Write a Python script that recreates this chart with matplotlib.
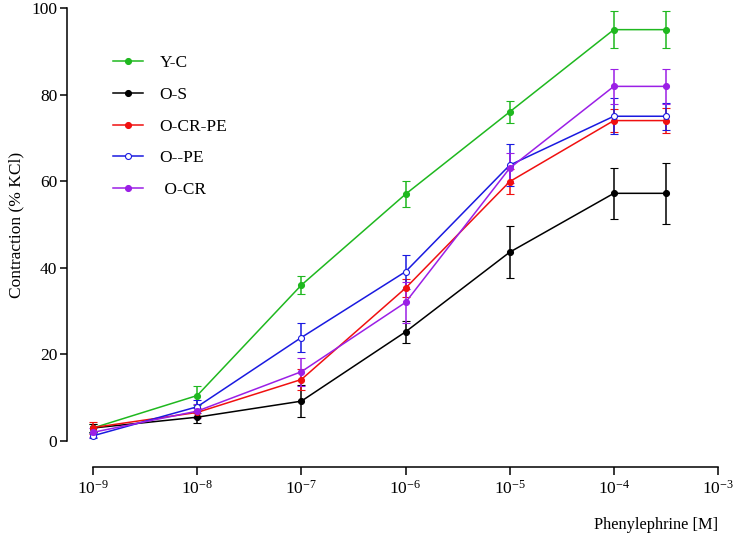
import matplotlib
matplotlib.use("Agg")
import matplotlib.pyplot as plt
from matplotlib.lines import Line2D
from matplotlib.ticker import FixedLocator, NullLocator

plt.rcParams['font.family'] = ['Liberation Serif', 'DejaVu Serif']
plt.rcParams['mathtext.fontset'] = 'custom'
plt.rcParams['mathtext.rm'] = 'Liberation Serif'
plt.rcParams['mathtext.it'] = 'Liberation Serif:italic'
plt.rcParams['mathtext.bf'] = 'Liberation Serif:bold'

# Data
conc = [1e-9, 1e-8, 1e-7, 1e-6, 1e-5, 1e-4, 10 ** -3.5]
series_names = ['Y-C', 'O-S', 'O-CR-PE', 'O--PE', ' O-CR']
yc_mean = [3.0, 10.5, 36.0, 57.0, 76.0, 95.0, 95.0]
yc_err = [1.0, 2.3, 2.1, 3.0, 2.5, 4.2, 4.3]
os_mean = [3.0, 5.5, 9.2, 25.2, 43.6, 57.2, 57.2]
os_err = [1.0, 1.4, 3.7, 2.5, 6.0, 5.9, 7.0]
ocrpe_mean = [3.1, 6.6, 14.2, 35.3, 59.9, 74.0, 74.0]
ocrpe_err = [1.4, 1.0, 2.4, 2.0, 2.9, 2.6, 2.9]
ope_mean = [1.2, 7.9, 23.9, 39.1, 63.7, 75.0, 75.0]
ope_err = [0.6, 1.5, 3.4, 3.9, 4.8, 4.2, 3.1]
ocr_mean = [2.0, 6.9, 16.0, 32.0, 63.0, 81.9, 81.9]
ocr_err = [1.0, 1.6, 3.2, 4.8, 3.4, 4.0, 4.0]

colors = ['#1FB81F', '#000000', '#F01010', '#1A1AE0', '#9B1FE6']
means = [yc_mean, os_mean, ocrpe_mean, ope_mean, ocr_mean]
errs = [yc_err, os_err, ocrpe_err, ope_err, ocr_err]
hollow = [False, False, False, True, False]

xticks = [1e-9, 1e-8, 1e-7, 1e-6, 1e-5, 1e-4, 1e-3]
xticklabels = ['$10^{-9}$', '$10^{-8}$', '$10^{-7}$', '$10^{-6}$',
               '$10^{-5}$', '$10^{-4}$', '$10^{-3}$']
yticks = [0, 20, 40, 60, 80, 100]

W, H = 738, 539
fig = plt.figure(figsize=(W / 100, H / 100), dpi=100)
ax = fig.add_axes([93 / W, 1 - 441 / H, 625 / W, 433 / H])
ax.set_xscale('log')

handles = []
for m, e, c, h, name in zip(means, errs, colors, hollow, series_names):
    mfc = 'white' if h else c
    ax.errorbar(conc, m, yerr=e, color=c, ecolor=c, lw=1.1, elinewidth=1.1,
                capsize=3, capthick=1.1, marker='o', markersize=4.3,
                markerfacecolor=mfc, markeredgecolor=c, markeredgewidth=0.8,
                clip_on=False)
    handles.append(Line2D([0], [0], color=c, lw=1.1, marker='o', markersize=4.3,
                          markerfacecolor=mfc, markeredgecolor=c,
                          markeredgewidth=0.8, label=name))

ax.set_xlim(1e-9, 1e-3)
ax.set_ylim(0, 100)
ax.xaxis.set_major_locator(FixedLocator(xticks))
ax.xaxis.set_minor_locator(NullLocator())
ax.set_xticklabels(xticklabels)
ax.set_yticks(yticks)

for s in ['top', 'right']:
    ax.spines[s].set_visible(False)
ax.spines['left'].set_position(('outward', 26 * 0.72))
ax.spines['bottom'].set_position(('outward', 26 * 0.72))
for s in ['left', 'bottom']:
    ax.spines[s].set_linewidth(1.1)
ax.tick_params(axis='both', which='major', labelsize=12.5, width=1.1,
               direction='out')
ax.tick_params(axis='y', length=5, pad=2)
ax.tick_params(axis='x', length=6, pad=3)

ax.set_ylabel('Contraction (% KCl)', fontsize=12.5, labelpad=5)
fig.text(718 / W, 1 - 525 / H, 'Phenylephrine [M]', fontsize=11.8,
         ha='right', va='center')

ax.legend(handles=handles, loc='upper left', frameon=False, fontsize=12.5,
          bbox_to_anchor=(113 / W, 1 - 55 / H), bbox_transform=fig.transFigure,
          borderpad=0, borderaxespad=0, handlelength=1.73, handletextpad=0.95,
          labelspacing=0.9)

fig.savefig('out.png', dpi=100)
